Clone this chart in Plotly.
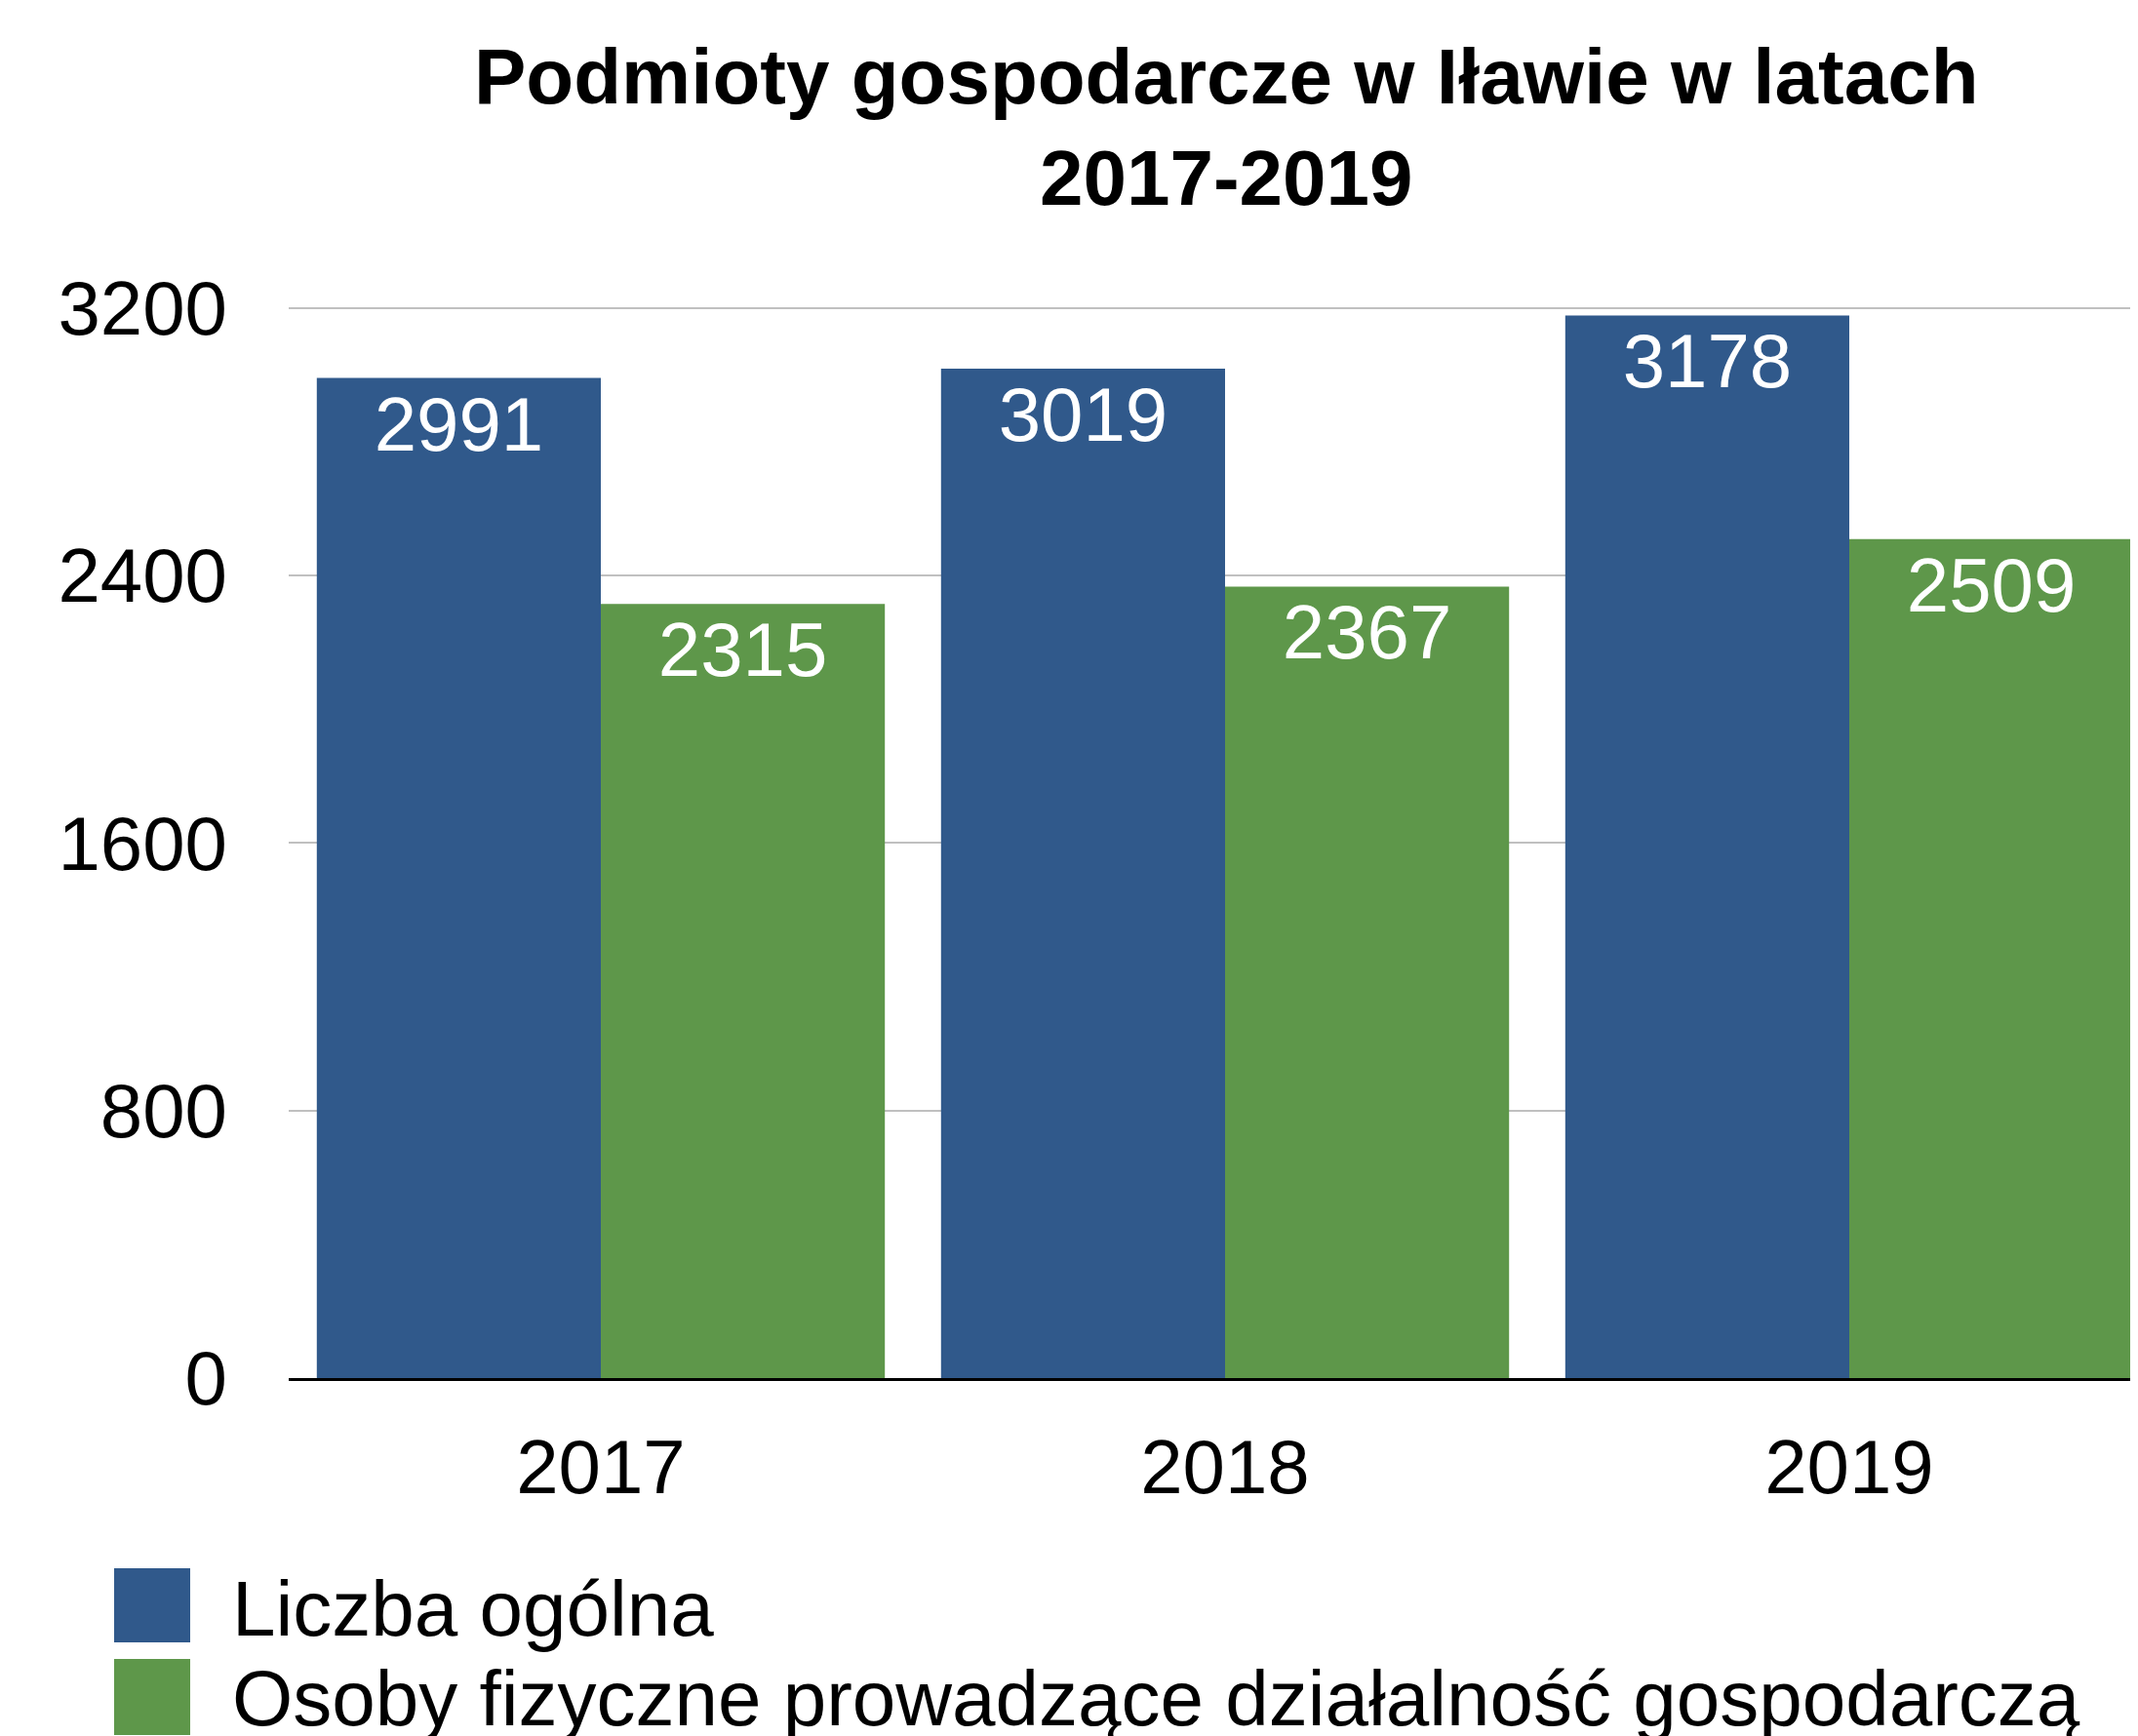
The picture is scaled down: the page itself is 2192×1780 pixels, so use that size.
import plotly.graph_objects as go

years = ["2017", "2018", "2019"]
series_names = ["Liczba ogólna", "Osoby fizyczne prowadzące działalność gospodarczą"]
liczba_ogolna = [2991, 3019, 3178]
osoby_fizyczne = [2315, 2367, 2509]
y_ticks = [0, 800, 1600, 2400, 3200]
title_text = "Podmioty gospodarcze w Iławie w latach<br>2017-2019"

BLUE = "#30598B"
GREEN = "#5E974A"
FONT = "Liberation Sans"

OFF = 8  # page body margin
W, H = 2192 - OFF, 1780 - OFF
PL, PR, PT = 296 - OFF, 0, 309 - OFF
PB = H - (1413 - OFF)
PW = W - PL - PR
PH = H - PT - PB

def px_x(p):
    return (p - OFF - PL) / PW

def px_y(p):
    return (H - PB - (p - OFF)) / PH

xpos = list(range(len(years)))

fig = go.Figure()
for name, vals, col in [(series_names[0], liczba_ogolna, BLUE), (series_names[1], osoby_fizyczne, GREEN)]:
    fig.add_trace(go.Bar(
        x=xpos, y=vals, name=name,
        marker=dict(color=col, line=dict(width=0)),
        text=[str(v) for v in vals],
        textposition="inside", insidetextanchor="end",
        textangle=0, constraintext="none",
        textfont=dict(family=FONT, size=78, color="white"),
        showlegend=False,
    ))

fig.update_layout(
    width=W, height=H, autosize=False,
    margin=dict(l=PL, r=PR, t=PT, b=PB, pad=0),
    paper_bgcolor="white", plot_bgcolor="white",
    barmode="group", bargap=0.09, bargroupgap=0,
    font=dict(family=FONT, color="black"),
    title=dict(
        text=title_text,
        font=dict(family=FONT, size=80, color="black", weight="bold"),
        x=0.507, xref="paper", xanchor="center",
        y=1 - 98 / H, yref="container", yanchor="top",
    ),
    xaxis=dict(
        range=[-0.5, -0.5 + PW / 640.0],
        tickvals=xpos, ticktext=years,
        showgrid=False, zeroline=False,
        showline=True, linecolor="black", linewidth=2.5,
        ticks="", tickfont=dict(family=FONT, size=78, color="black"),
        ticklabelstandoff=22,
    ),
    yaxis=dict(
        range=[0, 3220],
        tickvals=y_ticks, ticktext=[str(t) for t in y_ticks],
        showgrid=True, gridcolor="#C0C0C0", gridwidth=2,
        zeroline=False, showline=False, ticks="",
        tickfont=dict(family=FONT, size=78, color="black"),
        ticklabelstandoff=62,
    ),
)

# legend drawn as large swatches + labels (plotly legend symbols cannot be this large)
legend_items = [
    (series_names[0], BLUE, 1608, 1684, 1649),
    (series_names[1], GREEN, 1701, 1779, 1741),
]
for name, col, y0, y1, ym in legend_items:
    fig.add_shape(type="rect", xref="paper", yref="paper",
                  x0=px_x(117), x1=px_x(195), y0=px_y(y1), y1=px_y(y0),
                  fillcolor=col, line=dict(width=0), layer="above")
    fig.add_annotation(text=name, xref="paper", yref="paper",
                       x=px_x(236), y=px_y(ym), xanchor="left", yanchor="middle",
                       showarrow=False, font=dict(family=FONT, size=80, color="black"))

fig.write_html("out.html")
